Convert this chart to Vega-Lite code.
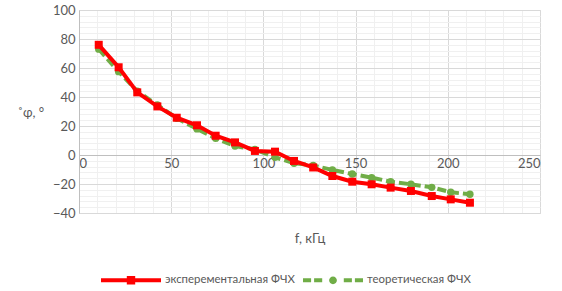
{
  "$schema": "https://vega.github.io/schema/vega-lite/v6.json",
  "width": 461,
  "height": 203,
  "autosize": {"type": "none"},
  "padding": {"left": 79, "top": 10, "right": 22, "bottom": 78},
  "background": "white",
  "config": {
    "view": {"stroke": "#d9d9d9", "strokeWidth": 1},
    "font": "Lato",
    "axis": {"labelFont": "Lato", "titleFont": "Lato", "labelColor": "#595959", "titleColor": "#595959", "labelFontSize": 13, "titleFontSize": 13, "titleFontWeight": "normal"},
    "legend": {"labelFont": "Lato", "labelFontSize": 11.4, "labelColor": "#595959"}
  },
  "data": {"values": [
    {"f": 10.7, "phi": 76, "s": "эксперементальная ФЧХ"},
    {"f": 21.5, "phi": 60.5, "s": "эксперементальная ФЧХ"},
    {"f": 31.6, "phi": 43.2, "s": "эксперементальная ФЧХ"},
    {"f": 42.5, "phi": 33.5, "s": "эксперементальная ФЧХ"},
    {"f": 53, "phi": 25.7, "s": "эксперементальная ФЧХ"},
    {"f": 64, "phi": 20.5, "s": "эксперементальная ФЧХ"},
    {"f": 74.1, "phi": 13.3, "s": "эксперементальная ФЧХ"},
    {"f": 84.6, "phi": 8.7, "s": "эксперементальная ФЧХ"},
    {"f": 95.4, "phi": 2.8, "s": "эксперементальная ФЧХ"},
    {"f": 106.3, "phi": 2.3, "s": "эксперементальная ФЧХ"},
    {"f": 116.6, "phi": -4.1, "s": "эксперементальная ФЧХ"},
    {"f": 127, "phi": -8.6, "s": "эксперементальная ФЧХ"},
    {"f": 137.4, "phi": -14.5, "s": "эксперементальная ФЧХ"},
    {"f": 148.2, "phi": -18.4, "s": "эксперементальная ФЧХ"},
    {"f": 158.7, "phi": -20.2, "s": "эксперементальная ФЧХ"},
    {"f": 169, "phi": -22.5, "s": "эксперементальная ФЧХ"},
    {"f": 180, "phi": -24.8, "s": "эксперементальная ФЧХ"},
    {"f": 191.3, "phi": -28.3, "s": "эксперементальная ФЧХ"},
    {"f": 201.6, "phi": -30.6, "s": "эксперементальная ФЧХ"},
    {"f": 212, "phi": -32.9, "s": "эксперементальная ФЧХ"},
    {"f": 10.7, "phi": 73, "s": "теоретическая ФЧХ"},
    {"f": 21.5, "phi": 57.5, "s": "теоретическая ФЧХ"},
    {"f": 31.6, "phi": 44, "s": "теоретическая ФЧХ"},
    {"f": 42.5, "phi": 34.5, "s": "теоретическая ФЧХ"},
    {"f": 53, "phi": 25.3, "s": "теоретическая ФЧХ"},
    {"f": 64, "phi": 18, "s": "теоретическая ФЧХ"},
    {"f": 74.1, "phi": 11.5, "s": "теоретическая ФЧХ"},
    {"f": 84.6, "phi": 6.2, "s": "теоретическая ФЧХ"},
    {"f": 95.4, "phi": 3.9, "s": "теоретическая ФЧХ"},
    {"f": 106.3, "phi": -1.6, "s": "теоретическая ФЧХ"},
    {"f": 116.6, "phi": -5.7, "s": "теоретическая ФЧХ"},
    {"f": 127, "phi": -7.2, "s": "теоретическая ФЧХ"},
    {"f": 137.4, "phi": -10.3, "s": "теоретическая ФЧХ"},
    {"f": 148.2, "phi": -13.1, "s": "теоретическая ФЧХ"},
    {"f": 158.7, "phi": -15.6, "s": "теоретическая ФЧХ"},
    {"f": 169, "phi": -18.4, "s": "теоретическая ФЧХ"},
    {"f": 180, "phi": -20.2, "s": "теоретическая ФЧХ"},
    {"f": 191.3, "phi": -22.3, "s": "теоретическая ФЧХ"},
    {"f": 201.6, "phi": -25.7, "s": "теоретическая ФЧХ"},
    {"f": 212, "phi": -27.1, "s": "теоретическая ФЧХ"}
  ]},
  "resolve": {"axis": {"x": "independent", "y": "independent"}},
  "layer": [
    {
      "transform": [{"filter": "datum.s == 'теоретическая ФЧХ'"}],
      "mark": {"type": "line", "strokeWidth": 4, "strokeDash": [9, 4], "color": "#70ad47"},
      "encoding": {
        "x": {"field": "f", "type": "quantitative", "scale": {"domain": [0, 250], "nice": false},
          "axis": {"orient": "bottom", "values": [10,20,30,40,60,70,80,90,110,120,130,140,160,170,180,190,210,220,230,240], "grid": true, "gridColor": "#f0f0f0", "labels": false, "ticks": false, "domain": false, "title": null}},
        "y": {"field": "phi", "type": "quantitative", "scale": {"domain": [-40, 100], "nice": false},
          "axis": {"orient": "left", "values": [-36,-32,-28,-24,-16,-12,-8,-4,4,8,12,16,24,28,32,36,44,48,52,56,64,68,72,76,84,88,92,96], "grid": true, "gridColor": "#f0f0f0", "labels": false, "ticks": false, "domain": false, "title": null}}
      }
    },
    {
      "transform": [{"filter": "datum.s == 'теоретическая ФЧХ'"}],
      "mark": {"type": "point", "filled": true, "shape": "circle", "size": 55, "color": "#70ad47", "opacity": 1},
      "encoding": {
        "x": {"field": "f", "type": "quantitative",
          "axis": {"orient": "bottom", "values": [0, 50, 100, 150, 200, 250], "grid": true, "gridColor": "#d9d9d9", "domain": true, "domainColor": "#bfbfbf", "ticks": false, "labelPadding": 2, "offset": -58, "title": "f, кГц", "titleY": 87, "titleBaseline": "alphabetic"}},
        "y": {"field": "phi", "type": "quantitative",
          "axis": {"orient": "left", "values": [-40, -20, 0, 20, 40, 60, 80, 100], "grid": true, "gridColor": "#d9d9d9", "domain": true, "domainColor": "#bfbfbf", "ticks": false, "labelPadding": 4, "title": "\u030Aφ, °", "titleAngle": 0, "titleAlign": "center", "titleBaseline": "middle", "titleX": -46, "titleY": 102}}
      }
    },
    {
      "transform": [{"filter": "datum.s == 'эксперементальная ФЧХ'"}],
      "mark": {"type": "line", "strokeWidth": 4, "color": "#ff0000"},
      "encoding": {
        "x": {"field": "f", "type": "quantitative", "axis": null},
        "y": {"field": "phi", "type": "quantitative", "axis": null}
      }
    },
    {
      "mark": {"type": "point", "filled": true, "size": 0, "opacity": 1},
      "encoding": {
        "x": {"field": "f", "type": "quantitative", "axis": null},
        "y": {"field": "phi", "type": "quantitative", "axis": null},
        "color": {"field": "s", "type": "nominal",
          "scale": {"domain": ["эксперементальная ФЧХ", "теоретическая ФЧХ"], "range": ["#ff0000", "#70ad47"]},
          "legend": {"title": null, "orient": "none", "direction": "horizontal", "legendX": 22, "legendY": 240, "symbolSize": 3600, "symbolStrokeWidth": 0, "labelOffset": 4, "columnPadding": 8}},
        "shape": {"field": "s", "type": "nominal",
          "scale": {"domain": ["эксперементальная ФЧХ", "теоретическая ФЧХ"], "range": ["M-1,-0.067H1V0.067H-1Z M-0.14,-0.14H0.14V0.14H-0.14Z", "M-1,-0.067H-0.73V0.067H-1Z M-0.63,-0.067H-0.36V0.067H-0.63Z M0.13,0A0.13,0.13 0 1,1 -0.13,0A0.13,0.13 0 1,1 0.13,0Z M0.36,-0.067H0.63V0.067H0.36Z M0.73,-0.067H1V0.067H0.73Z"]},
          "legend": {"title": null, "orient": "none", "direction": "horizontal", "legendX": 22, "legendY": 240, "symbolSize": 3600, "symbolStrokeWidth": 0, "labelOffset": 4, "columnPadding": 8}}
      }
    },
    {
      "transform": [{"filter": "datum.s == 'эксперементальная ФЧХ'"}],
      "mark": {"type": "point", "filled": true, "shape": "square", "size": 64, "color": "#ff0000", "opacity": 1},
      "encoding": {
        "x": {"field": "f", "type": "quantitative", "axis": null},
        "y": {"field": "phi", "type": "quantitative", "axis": null}
      }
    }
  ]
}
